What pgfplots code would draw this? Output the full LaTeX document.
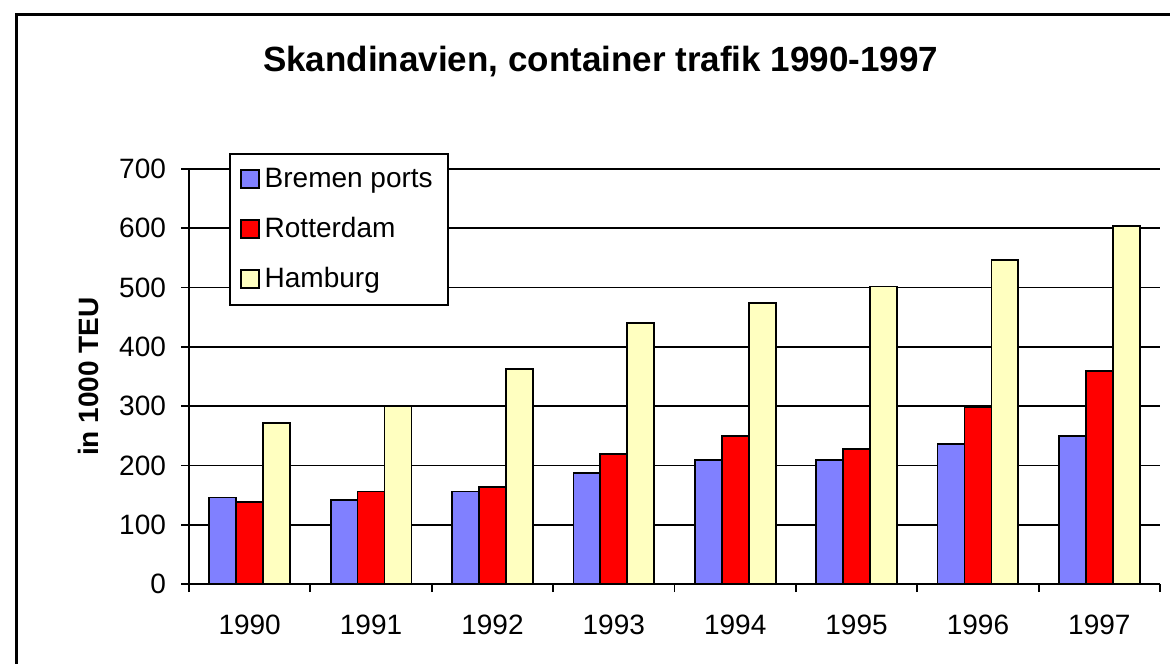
\documentclass[border=0pt]{standalone}
\usepackage{pgfplots}
\pgfplotsset{compat=1.18}
\usepackage{fontspec}
\setmainfont{Liberation Sans}
\definecolor{bremen}{HTML}{8080FF}
\definecolor{rotterdam}{HTML}{FF0000}
\definecolor{hamburg}{HTML}{FFFFC0}
\begin{document}
\begin{tikzpicture}
\useasboundingbox (0,0) rectangle (585pt,-331.5pt);
\clip (0,0) rectangle (585pt,-331.5pt);
\fill[white] (0,0) rectangle (585pt,-331.5pt);
\draw[line width=1.5pt] (8pt,-340pt) -- (8pt,-7.25pt) -- (590pt,-7.25pt);
\begin{axis}[
  at={(94.5pt,-292pt)}, anchor=south west,
  scale only axis, width=485.5pt, height=207.5pt,
  ybar=0pt, bar width=0.222,
  xmin=-0.5, xmax=7.5, ymin=0, ymax=700,
  xtick={0,...,7}, xticklabels={1990,1991,1992,1993,1994,1995,1996,1997},
  minor xtick={-0.5,0.5,...,7.5},
  major x tick style={draw=none},
  ytick={0,100,...,700},
  ymajorgrids, major grid style={black, line width=0.9pt},
  axis x line*=bottom, axis y line*=left,
  axis line style={black, line width=0.9pt, -},
  tick align=outside, major tick length=4pt, minor tick length=4pt,
  tick style={black, line width=0.9pt},
  ticklabel style={font=\fontsize{14}{16}\selectfont},
  /pgf/number format/assume math mode=true,
  xticklabel style={yshift=-8pt},
  yticklabel style={xshift=-4pt},
  every axis plot/.append style={draw=black, line width=0.9pt},
  title={\bfseries Skandinavien, container trafik 1990-1997},
  title style={at={(axis description cs:0.424,1.231)}, anchor=center, font=\fontsize{17.5}{20}\selectfont},
  ylabel={\bfseries in 1000 TEU},
  ylabel style={at={(axis description cs:-0.104,0.5)}, anchor=center, rotate=0, font=\fontsize{14}{16}\selectfont},
  legend style={at={(axis description cs:0.0412,1.0386)}, anchor=north west,
    draw=black, line width=0.9pt, fill=white,
    font=\fontsize{14}{16}\selectfont, row sep=9.5pt,
    inner xsep=5pt, inner ysep=5pt,
    nodes={inner xsep=2.5pt}},
  legend cell align=left,
  legend image code/.code={\draw[#1] (0pt,-4.5pt) rectangle (9pt,4.5pt);},
]
\addplot[fill=bremen] coordinates {(0,146) (1,142) (2,156) (3,187) (4,209) (5,209) (6,236) (7,250)};
\addplot[fill=rotterdam] coordinates {(0,138) (1,156) (2,164) (3,219) (4,250) (5,228) (6,299) (7,359)};
\addplot[fill=hamburg] coordinates {(0,272) (1,300) (2,362) (3,440) (4,474) (5,502) (6,547) (7,604)};
\legend{Bremen ports, Rotterdam, Hamburg}
\end{axis}
\end{tikzpicture}
\end{document}
